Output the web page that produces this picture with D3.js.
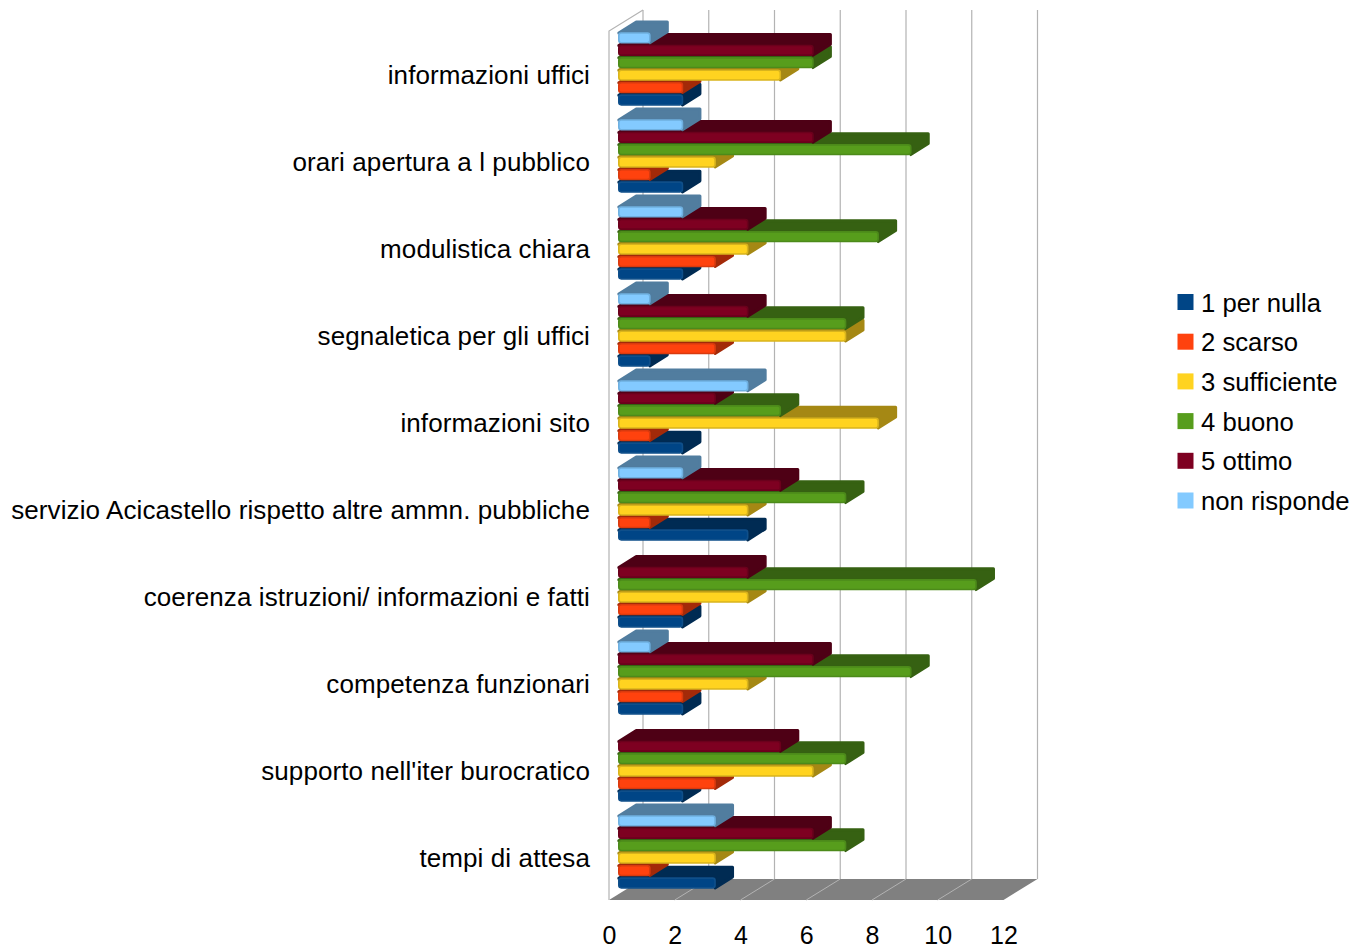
<!DOCTYPE html>
<html lang="it">
<head>
<meta charset="utf-8">
<title>Valutazione dei servizi</title>
<script src="https://cdn.jsdelivr.net/npm/d3@7/dist/d3.min.js"></script>
<style>
  html, body { margin: 0; padding: 0; background: #fff; }
  svg { display: block; }
  text { font-family: "Liberation Sans", Arial, sans-serif; fill: #000; }
</style>
</head>
<body>
<svg id="chart" width="1367" height="949"></svg>
<script>
// Survey answers per service, counted per rating.
const categories = [
  "informazioni uffici",
  "orari apertura a l pubblico",
  "modulistica chiara",
  "segnaletica per gli uffici",
  "informazioni sito",
  "servizio Acicastello rispetto altre ammn. pubbliche",
  "coerenza istruzioni/ informazioni e fatti",
  "competenza funzionari",
  "supporto nell'iter burocratico",
  "tempi di attesa"
];
const seriesNames = ["1 per nulla", "2 scarso", "3 sufficiente", "4 buono", "5 ottimo", "non risponde"];
const perNulla   = [2, 2, 2, 1, 2, 4, 2, 2, 2, 3];
const scarso     = [2, 1, 3, 3, 1, 1, 2, 2, 3, 1];
const sufficiente = [5, 3, 4, 7, 8, 4, 4, 4, 6, 3];
const buono      = [6, 9, 8, 7, 5, 7, 11, 9, 7, 7];
const ottimo     = [6, 6, 4, 4, 3, 5, 4, 6, 5, 6];
const nonRisponde = [1, 2, 2, 1, 4, 2, 0, 1, 0, 3];
const seriesValues = [perNulla, scarso, sufficiente, buono, ottimo, nonRisponde];
const xTicks = [0, 2, 4, 6, 8, 10, 12];

const frontColors = ["#004586", "#ff420e", "#ffd320", "#579d1c", "#7e0021", "#83caff"];
const faceColors  = ["#002b53", "#a32a09", "#a58814", "#366112", "#4e0015", "#517d9f"];
const edgeColors  = ["#0f4f8a", "#d93a0e", "#d9b41c", "#4c8a1a", "#6b001c", "#6fb0e0"];

const svg = d3.select("#chart");

// Oblique projection: the back wall sits up and to the right of the front plane.
const depth = { x: 34, y: -21 };
const barDepth = { x: 17.5, y: -11 };
const floorY = 900;
const wallTop = 31;

const xFront = d3.scaleLinear().domain([0, 12]).range([609, 1003.5]);
const xBar = d3.scaleLinear().domain([0, 12]).range([618, 1009.4]);
const yGroup = d3.scaleBand().domain(categories).range([33, 903]);
const ySeries = d3.scaleBand().domain(d3.range(seriesNames.length).reverse()).range([0, 74.6]);
const barH = 9.7;
const barEdge = 0.8;
const labelFont = "26px";
const legendFont = "25.7px";

// Floor
const floor = svg.append("g");
floor.append("polygon")
  .attr("points", [
    [xFront(0), floorY],
    [xFront(12), floorY],
    [xFront(12) + depth.x, floorY + depth.y],
    [xFront(0) + depth.x, floorY + depth.y]
  ].join(" "))
  .attr("fill", "#808080");

floor.selectAll("line")
  .data(xTicks.slice(1, -1))
  .join("line")
  .attr("x1", d => xFront(d))
  .attr("y1", floorY)
  .attr("x2", d => xFront(d) + depth.x)
  .attr("y2", floorY + depth.y)
  .attr("stroke", "#b3b3b3");

// Back wall gridlines and the left wall outline
const grid = svg.append("g").attr("stroke", "#b3b3b3").attr("stroke-width", 1.2).attr("fill", "none");
grid.selectAll("line")
  .data(xTicks)
  .join("line")
  .attr("x1", d => xFront(d) + depth.x)
  .attr("x2", d => xFront(d) + depth.x)
  .attr("y1", wallTop + depth.y)
  .attr("y2", floorY + depth.y);
grid.append("path")
  .attr("d", `M${xFront(0)},${floorY}V${wallTop}L${xFront(0) + depth.x},${wallTop + depth.y}`);

// Bars: painted bottom to top so upper fronts overlap lower top faces
const rows = [];
categories.forEach((c, i) => {
  seriesNames.forEach((s, j) => {
    rows.push({ category: c, series: j, value: seriesValues[j][i], order: i * 10 - j });
  });
});
rows.sort((a, b) => b.order - a.order);

const bars = svg.append("g")
  .selectAll("g")
  .data(rows.filter(d => d.value > 0))
  .join("g")
  .attr("transform", d => `translate(0,${yGroup(d.category) + ySeries(d.series)})`);

const x0 = xBar(0) + barEdge;
bars.append("path")
  .attr("d", d => {
    const x1 = xBar(d.value) - barEdge;
    return `M${x0},0L${x0 + barDepth.x},${barDepth.y}H${x1 + barDepth.x}V${barH + barDepth.y}L${x1},${barH}V0Z`;
  })
  .attr("fill", d => faceColors[d.series])
  .attr("stroke", d => faceColors[d.series])
  .attr("stroke-width", 3)
  .attr("stroke-linejoin", "round");

bars.append("rect")
  .attr("x", x0)
  .attr("y", 0)
  .attr("width", d => xBar(d.value) - barEdge - x0)
  .attr("height", barH)
  .attr("rx", 2.5)
  .attr("fill", d => frontColors[d.series])
  .attr("stroke", d => edgeColors[d.series])
  .attr("stroke-width", barEdge * 2);

// Axes
const axisX = svg.append("g")
  .attr("transform", "translate(0,943.6)")
  .call(d3.axisBottom(xFront).tickValues(xTicks).tickSize(0).tickPadding(0));
axisX.select(".domain").remove();
axisX.selectAll("text")
  .attr("y", 0)
  .attr("dy", 0)
  .style("font-family", '"Liberation Sans", Arial, sans-serif')
  .style("font-size", "25px");

const axisY = svg.append("g")
  .attr("transform", "translate(590,-1)")
  .call(d3.axisLeft(yGroup).tickSize(0).tickPadding(0));
axisY.select(".domain").remove();
axisY.selectAll("text")
  .style("font-family", '"Liberation Sans", Arial, sans-serif')
  .style("font-size", labelFont)
  .style("letter-spacing", "0.1px");

// Legend
const legendY = d3.scalePoint().domain(seriesNames).range([302, 500.5]);
const legend = svg.append("g")
  .selectAll("g")
  .data(seriesNames)
  .join("g")
  .attr("transform", d => `translate(1177.5,${legendY(d)})`);
legend.append("rect")
  .attr("y", -8)
  .attr("width", 16)
  .attr("height", 16)
  .attr("fill", (d, i) => frontColors[i]);
legend.append("text")
  .attr("x", 23.5)
  .attr("y", 0.5)
  .attr("dy", "0.35em")
  .style("font-size", legendFont)
  .text(d => d);
</script>
</body>
</html>
